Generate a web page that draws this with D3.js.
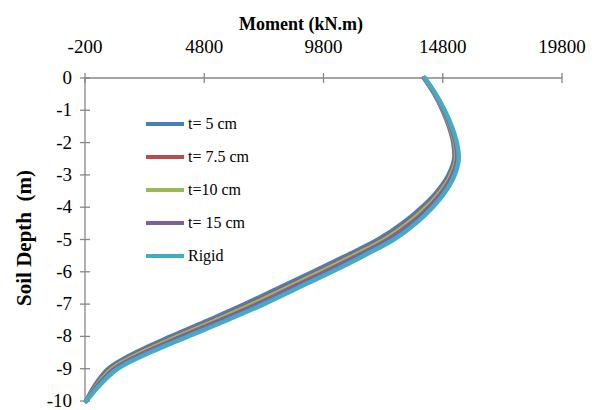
<!DOCTYPE html>
<html>
<head>
<meta charset="utf-8">
<script src="https://cdn.jsdelivr.net/npm/d3@7"></script>
<style>
  body { margin: 0; background: #fff; }
  text { font-family: "Liberation Serif", "Times New Roman", serif; fill: #000; }
</style>
</head>
<body>
<div id="chart"></div>
<script>
// soil depth (m) for every reading
const depths = [0, -0.5, -1, -1.5, -2, -2.5, -3, -3.5, -4, -4.5, -5, -5.5, -6, -6.5, -7, -7.5, -8, -8.5, -9, -9.5, -10];

// bending moment (kN.m) per lining thickness
const t5 = [14010, 14450, 14790, 15060, 15240, 15280, 15040, 14580, 13930, 13110, 12090, 10750, 9360, 7920, 6500, 4970, 3400, 1920, 780, 230, -150];
const t75 = [14022, 14468, 14817, 15096, 15285, 15337, 15118, 14685, 14065, 13278, 12288, 10972, 9597, 8160, 6740, 5204, 3616, 2100, 900, 290, -150];
const t10 = [14026, 14474, 14826, 15108, 15300, 15356, 15144, 14720, 14110, 13334, 12354, 11046, 9676, 8240, 6820, 5282, 3688, 2160, 940, 310, -150];
const t15 = [14036, 14489, 14849, 15138, 15338, 15404, 15209, 14808, 14223, 13474, 12519, 11231, 9874, 8440, 7020, 5477, 3868, 2310, 1040, 360, -150];
const rigid = [14050, 14510, 14880, 15180, 15390, 15470, 15300, 14930, 14380, 13670, 12750, 11490, 10150, 8720, 7300, 5750, 4120, 2520, 1180, 430, -150];

const seriesNames = ['t= 5 cm', 't= 7.5 cm', 't=10 cm', 't= 15 cm', 'Rigid'];
const seriesColors = ['#4a7ebb', '#be4b48', '#98b954', '#7d60a0', '#46aac5'];
const seriesValues = [t5, t75, t10, t15, rigid];

const xTicks = [-200, 4800, 9800, 14800, 19800];
const yTicks = [0, -1, -2, -3, -4, -5, -6, -7, -8, -9, -10];

const width = 598, height = 410;
const axisColor = '#868686';

const svg = d3.select('#chart').append('svg')
  .attr('width', width)
  .attr('height', height);

const x = d3.scaleLinear().domain([-200, 19800]).range([85, 562]);
const y = d3.scaleLinear().domain([0, -10]).range([78, 401]);

// top x axis
const xAxis = svg.append('g');
xAxis.append('line')
  .attr('x1', x(-200)).attr('x2', x(19800))
  .attr('y1', y(0)).attr('y2', y(0))
  .attr('stroke', axisColor).attr('stroke-width', 1.3);
xAxis.selectAll('.xt').data(xTicks).enter().append('line')
  .attr('x1', d => x(d)).attr('x2', d => x(d))
  .attr('y1', y(0) - 5).attr('y2', y(0) + 5)
  .attr('stroke', axisColor).attr('stroke-width', 1.3);
xAxis.selectAll('.xl').data(xTicks).enter().append('text')
  .attr('x', d => x(d))
  .attr('y', 53)
  .attr('text-anchor', 'middle')
  .style('font-size', '19px')
  .text(d => d);

// left y axis
const yAxis = svg.append('g');
yAxis.append('line')
  .attr('x1', x(-200)).attr('x2', x(-200))
  .attr('y1', y(0)).attr('y2', y(-10))
  .attr('stroke', axisColor).attr('stroke-width', 1.3);
yAxis.selectAll('.yt').data(yTicks).enter().append('line')
  .attr('x1', x(-200) - 5).attr('x2', x(-200) + 5)
  .attr('y1', d => y(d)).attr('y2', d => y(d))
  .attr('stroke', axisColor).attr('stroke-width', 1.3);
yAxis.selectAll('.yl').data(yTicks).enter().append('text')
  .attr('x', 72)
  .attr('y', d => y(d) + 6)
  .attr('text-anchor', 'end')
  .style('font-size', '19px')
  .text(d => d);

// titles
svg.append('text')
  .attr('x', 301).attr('y', 30)
  .attr('text-anchor', 'middle')
  .style('font-size', '18px').style('font-weight', 'bold')
  .text('Moment (kN.m)');

svg.append('text')
  .attr('transform', 'translate(31,238) rotate(-90)')
  .attr('text-anchor', 'middle')
  .style('font-size', '21px').style('font-weight', 'bold')
  .style('white-space', 'pre')
  .text('Soil Depth  (m)');

// curves
const line = d3.line()
  .x(d => x(d[0]))
  .y(d => y(d[1]))
  .curve(d3.curveCatmullRom);

seriesValues.forEach((vals, i) => {
  svg.append('path')
    .datum(vals.map((v, j) => [v, depths[j]]))
    .attr('d', line)
    .attr('fill', 'none')
    .attr('stroke', seriesColors[i])
    .attr('stroke-width', 4.5)
    .attr('stroke-linejoin', 'round')
    .attr('stroke-linecap', 'round');
});

// legend
const legend = svg.append('g');
seriesNames.forEach((name, i) => {
  const ly = 124 + i * 33;
  legend.append('line')
    .attr('x1', 146).attr('x2', 184)
    .attr('y1', ly).attr('y2', ly)
    .attr('stroke', seriesColors[i]).attr('stroke-width', 4);
  legend.append('text')
    .attr('x', 188).attr('y', ly + 5)
    .style('font-size', '16px')
    .text(name);
});
</script>
</body>
</html>
